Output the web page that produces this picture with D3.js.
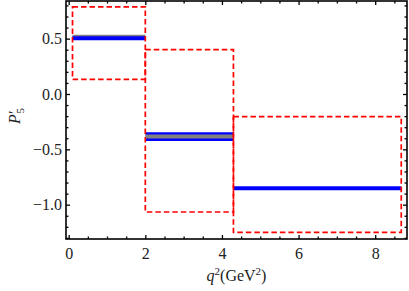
<!DOCTYPE html>
<html><head><meta charset="utf-8">
<script src="https://cdn.jsdelivr.net/npm/d3@7"></script>
<style>body{margin:0;background:#fff}svg{display:block}</style>
</head><body>
<script>
// Data
const binLo = [0.1, 2, 4.3];
const binHi = [2, 4.3, 8.68];
const expTop = [0.787, 0.40, -0.204];
const expBot = [0.132, -1.066, -1.25];
const bandLo = [0.504, -0.413, -0.851];
const bandHi = [0.535, -0.356, -0.842];
const blueBin = [0, 1, 1, 2];
const blueVal = [0.504, -0.356, -0.413, -0.851];
const xTicks = [0, 2, 4, 6, 8];
const yTicks = [-1.0, -0.5, 0.0, 0.5];

const W = 409, H = 291;
const x = d3.scaleLinear().domain([-0.07, 8.83]).range([66, 407]);
const y = d3.scaleLinear().domain([-1.31, 0.84]).range([239, 1]);

const svg = d3.select("body").append("svg").attr("width", W).attr("height", H);
const font = "'Liberation Serif','Times New Roman',serif";
const txtCol = "#222";

// gray bands
svg.append("g").selectAll("rect").data(binLo).join("rect")
  .attr("x", (d, i) => x(binLo[i]))
  .attr("width", (d, i) => x(binHi[i]) - x(binLo[i]))
  .attr("y", (d, i) => y(bandHi[i]))
  .attr("height", (d, i) => y(bandLo[i]) - y(bandHi[i]))
  .attr("fill", "#808080");

// blue lines
svg.append("g").selectAll("line").data(blueVal).join("line")
  .attr("x1", (d, i) => x(binLo[blueBin[i]]))
  .attr("x2", (d, i) => x(binHi[blueBin[i]]))
  .attr("y1", d => y(d)).attr("y2", d => y(d))
  .attr("stroke", "#0000ff")
  .attr("stroke-width", (d, i) => (blueBin[i] === 1 ? 2.4 : 4));

// red dashed boxes
svg.append("g").selectAll("rect").data(binLo).join("rect")
  .attr("x", (d, i) => x(binLo[i]))
  .attr("width", (d, i) => x(binHi[i]) - x(binLo[i]))
  .attr("y", (d, i) => y(expTop[i]))
  .attr("height", (d, i) => y(expBot[i]) - y(expTop[i]))
  .attr("fill", "none")
  .attr("stroke", "#ff0000")
  .attr("stroke-width", 1.7)
  .attr("stroke-dasharray", "5.5,3");

// axes
const [x0, x1] = x.range();
const [yb, yt] = y.range();
const xMinor = d3.range(0, 8.51, 0.5).filter(v => !xTicks.includes(v));
const yMinor = d3.range(-1.3, 0.81, 0.1).map(v => +v.toFixed(2)).filter(v => !yTicks.some(t => Math.abs(t - v) < 1e-6));

function addAxis(axisFn, scale, vals, size, transform, labels) {
  const a = axisFn(scale).tickValues(vals).tickSizeInner(-size).tickSizeOuter(0);
  if (!labels) a.tickFormat("");
  const g = svg.append("g").attr("transform", transform).call(a);
  g.select(".domain").remove();
  g.selectAll("line").attr("stroke", "#000").attr("stroke-width", 1.3);
  return g;
}
const gb = addAxis(d3.axisBottom, x, xTicks, 4, `translate(0,${yb})`, true);
gb.selectAll("text").attr("y", 20).attr("dy", 0).attr("font-family", font).attr("font-size", 16).attr("fill", txtCol)
  .text(d => d3.format("d")(d));
addAxis(d3.axisBottom, x, xMinor, 2.5, `translate(0,${yb})`, false);
addAxis(d3.axisTop, x, xTicks, 4, `translate(0,${yt})`, false);
addAxis(d3.axisTop, x, xMinor, 2.5, `translate(0,${yt})`, false);

const gl = addAxis(d3.axisLeft, y, yTicks, 4, `translate(${x0},0)`, true);
gl.selectAll("text").attr("x", -4).attr("font-family", font).attr("font-size", 16).attr("fill", txtCol)
  .text(d => d3.format(".1f")(d));
addAxis(d3.axisLeft, y, yMinor, 2.5, `translate(${x0},0)`, false);
addAxis(d3.axisRight, y, yTicks, 4, `translate(${x1},0)`, false);
addAxis(d3.axisRight, y, yMinor, 2.5, `translate(${x1},0)`, false);

// frame
svg.append("rect").attr("x", x0).attr("y", yt).attr("width", x1 - x0).attr("height", yb - yt)
  .attr("fill", "none").attr("stroke", "#000").attr("stroke-width", 1.6);

// axis titles
const xt = svg.append("text").attr("x", (x0 + x1) / 2).attr("y", 281).attr("text-anchor", "middle")
  .attr("font-family", font).attr("font-size", 16).attr("fill", txtCol);
xt.append("tspan").attr("font-style", "italic").text("q");
xt.append("tspan").attr("font-size", 11).attr("dy", -6).text("2");
xt.append("tspan").attr("dy", 6).text("(GeV");
xt.append("tspan").attr("font-size", 11).attr("dy", -6).text("2");
xt.append("tspan").attr("dy", 6).text(")");

const yl = svg.append("text").attr("transform", `translate(20,116) rotate(-90)`).attr("text-anchor", "middle")
  .attr("font-family", font).attr("font-size", 16).attr("fill", txtCol);
yl.append("tspan").attr("font-style", "italic").text("P");
yl.append("tspan").text("′");
yl.append("tspan").attr("font-size", 11).attr("dy", 4).attr("dx", -3).text("5");
</script>
</body></html>
